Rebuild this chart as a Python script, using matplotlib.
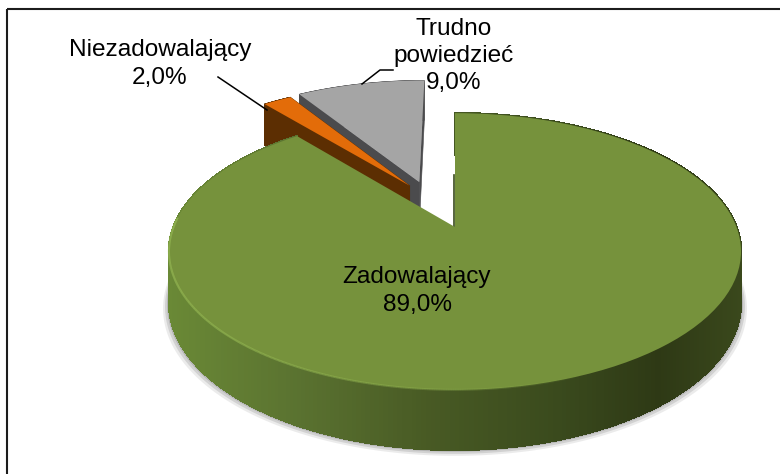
import numpy as np
import matplotlib
matplotlib.use("Agg")
import matplotlib.pyplot as plt
from matplotlib.collections import PolyCollection, LineCollection
from matplotlib.colors import to_rgb
from matplotlib.patches import Rectangle
from matplotlib.transforms import Transform

categories = ["Zadowalający", "Niezadowalający", "Trudno\npowiedzieć"]
values = [89.0, 2.0, 9.0]

TOP_COLORS = ["#76923c", "#e36c09", "#a5a5a5"]
WALL_COLORS = ["#4a5c24", "#5c2e02", "#4b4b4d"]
OFFSETS = [(0.0, 0.0), (-0.17, 0.325), (-0.135, 0.357)]
ZORDERS = [6, 4, 2]
LABEL_POS = [(417, 291), (160, 64), (454, 56)]

CX, CY, RX, RY, K, DZ = 455.0, 227.0, 281.5, 134.0, 0.177, 49.4
W, H = 780, 474


def project(xy, z=0.0):
    xy = np.asarray(xy, float)
    w = 1 + K * xy[..., 1]
    return np.stack([CX + RX * xy[..., 0] / w,
                     CY - RY * xy[..., 1] / w + DZ * z / w], axis=-1)


class TiltTransform(Transform):
    input_dims = 2
    output_dims = 2
    is_separable = False
    has_inverse = False

    def transform_non_affine(self, values):
        return project(values)


def rim(center, r, t1, t2, n=400):
    t = np.radians(np.linspace(t1, t2, n))
    return np.column_stack([center[0] + r * np.cos(t), center[1] + r * np.sin(t)])


plt.rcParams["font.family"] = ["Liberation Sans", "DejaVu Sans"]
fig = plt.figure(figsize=(W / 100, H / 100), dpi=100, facecolor="white")
ax = fig.add_axes([0, 0, 1, 1])
wedges, _ = ax.pie(values, startangle=90, counterclock=False, colors=TOP_COLORS)
ax.set_aspect("auto")
ax.set_xlim(0, W)
ax.set_ylim(H, 0)
ax.axis("off")
tilt = TiltTransform() + ax.transData

SHADE_X = [170, 300, 430, 560, 660, 742]
SHADE_C = np.array([to_rgb(c) for c in
                    ["#6a8936", "#5a7230", "#485a24", "#3a4a1d", "#2e3915", "#3a481c"]])


def shade(px):
    return np.column_stack([np.interp(px, SHADE_X, SHADE_C[:, i]) for i in range(3)])


for i, wedge in enumerate(wedges):
    wedge.set_center(OFFSETS[i])
    wedge.set_transform(tilt)
    wedge.set_zorder(ZORDERS[i])
    wedge.set_linewidth(0)
    c, r, t1, t2 = wedge.center, wedge.r, wedge.theta1, wedge.theta2
    edge = rim(c, r, t1, t2)
    top = project(edge)
    bot = project(edge, 1.0)
    quads = np.stack([top[:-1], top[1:], bot[1:], bot[:-1]], axis=1)
    if i == 0:
        wall = PolyCollection(quads, facecolors=shade(quads[:, :, 0].mean(axis=1)),
                              edgecolors="face", linewidths=1.0, antialiaseds=False,
                              zorder=ZORDERS[i] - 1)
        ax.add_collection(wall)
        # soft shadow hugging the lower edge of the wall
        low = project(rim(c, 1.0, 175, 365), 1.0)
        for dy, a in [(6.0, 0.14), (4.0, 0.22), (2.0, 0.30)]:
            grow = np.array([1.0 + dy / 290.0, 1.0])
            far = (low - [CX, 0]) * grow + [CX, dy]
            poly = np.vstack([low, far[::-1]])
            ax.fill(poly[:, 0], poly[:, 1], color="#777777", alpha=a, lw=0, zorder=1)
        # light rim on the front edge, fading out towards the right
        front = project(rim(c, 1.0, 176, 292))
        segs = np.stack([front[:-1], front[1:]], axis=1)
        fade = np.linspace(1, 0, len(segs)) ** 0.7
        cols = np.column_stack([np.tile(to_rgb("#93b552"), (len(segs), 1)), fade])
        ax.add_collection(LineCollection(segs, colors=cols, linewidths=1.5,
                                         capstyle="butt", zorder=ZORDERS[i] + 1))
        # edge-on cut face at twelve o'clock
        cut = project(np.array([[0.0, 0.42], [0.0, 0.0]]))
        ax.plot(cut[:, 0] - 1, cut[:, 1], color="#3a4a1d", lw=1.2, zorder=ZORDERS[i] - 1)
    else:
        for a_pt, b_pt in [(c, edge[0]), (c, edge[-1])]:
            seg = np.array([a_pt, b_pt])
            ptop, pbot = project(seg), project(seg, 1.0)
            poly = np.vstack([ptop, pbot[::-1]])
            ax.fill(poly[:, 0], poly[:, 1], color=WALL_COLORS[i], lw=0.4,
                    zorder=ZORDERS[i] - 1)
        ax.add_collection(PolyCollection(quads, facecolors=WALL_COLORS[i],
                                         edgecolors="face", linewidths=0.4,
                                         zorder=ZORDERS[i] - 1))

# leader lines
ax.plot([218, 267], [77, 110], color="black", lw=1.1, zorder=8)
ax.plot([362, 380, 393], [84, 70, 70], color="black", lw=1.1, zorder=8)

# labels
for cat, val, (x, y) in zip(categories, values, LABEL_POS):
    ax.text(x, y, f"{cat}\n{val:.1f}%".replace(".", ","), ha="center", va="center",
            fontsize=17.6, linespacing=1.32, color="black", zorder=9)

# chart frame, cut off by the image on the right and at the bottom
ax.add_patch(Rectangle((7, 9), W, H, fill=False, ec="#1c1c1c", lw=1.5, zorder=10))

fig.savefig("out.png", dpi=100)
